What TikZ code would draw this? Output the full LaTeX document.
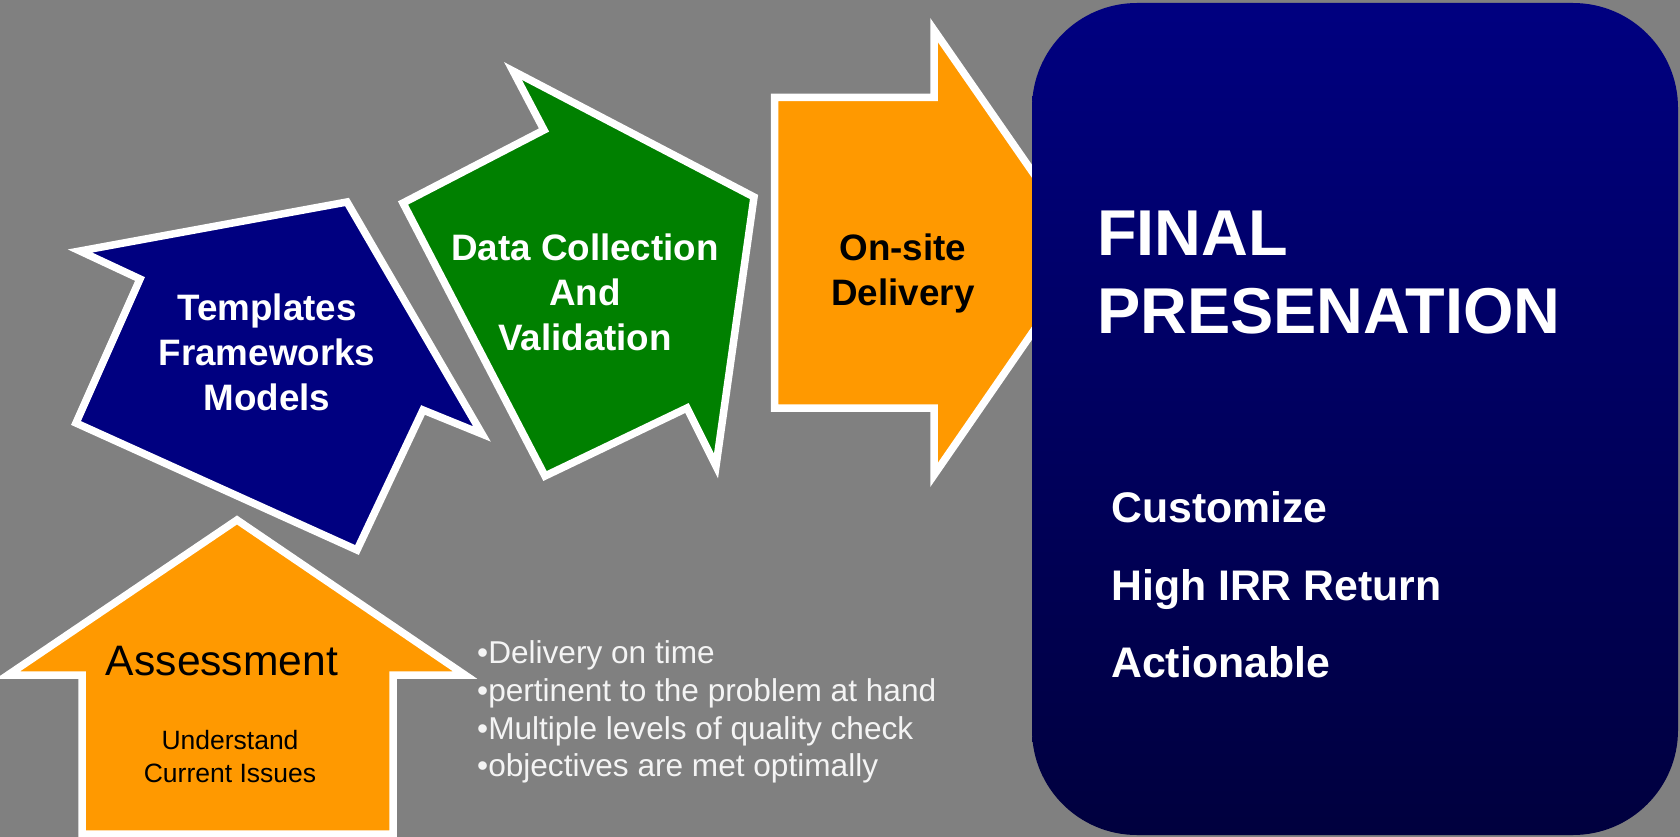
\documentclass[tikz,border=0pt]{standalone}
\usepackage{fontspec}
\setmainfont{Liberation Sans}
\definecolor{bggray}{HTML}{808080}
\definecolor{navy}{HTML}{000080}
\definecolor{navydark}{HTML}{00003E}
\definecolor{dgreen}{HTML}{008000}
\definecolor{amber}{HTML}{FF9900}
\definecolor{lightgray}{HTML}{F4F4F4}
\tikzset{
  arrowshape/.style={draw=white, line width=7.5pt, line join=miter},
  bigtxt/.style={inner sep=0pt, align=center, font=\bfseries\fontsize{36.8}{45}\selectfont},
}
\begin{document}
\begin{tikzpicture}[x=1pt,y=-1pt]
\useasboundingbox (0,0) rectangle (1680,837);
\fill[bggray] (0,0) rectangle (1680,837);

% blue arrow
\draw[arrowshape, fill=navy] (80,251) -- (347,202) -- (482,434) -- (423,410) -- (357,550) -- (76,423) -- (140,279) -- cycle;
% green arrow
\draw[arrowshape, fill=dgreen] (513,71) -- (754,197) -- (716,466) -- (687,408) -- (545,476) -- (403,203) -- (544,130) -- cycle;
% orange right arrow
\draw[arrowshape, fill=amber] (774.5,97.5) -- (934,97.5) -- (934,30) -- (1088,252) -- (934,475) -- (934,408) -- (774.5,408) -- cycle;
% assessment arrow
\draw[arrowshape, fill=amber] (237,520) -- (465,675) -- (393,675) -- (393,834) -- (82,834) -- (82,675) -- (8,675) -- cycle;

% final box
\shade[top color=navy, bottom color=navydark, rounded corners=105pt] (1032,3) rectangle (1678,835);

% texts
\node[bigtxt, text=white] (tfm) at (267,352) {Templates\\Frameworks\\Models};
\node[bigtxt, text=white] (dcv) at (585,292) {Data Collection\\And\\Validation};
\node[bigtxt, text=black] (osd) at (903,273) {On-site\\Delivery};
\node[inner sep=0pt, anchor=base, font=\fontsize{42.6}{50}\selectfont] (ass) at (222,675) {Assessment};
\node[inner sep=0pt, align=center, font=\fontsize{26.5}{33}\selectfont] (und) at (230,756.5) {Understand\\Current Issues};
\node[inner sep=0pt, align=left, anchor=west, text=lightgray, font=\fontsize{31.6}{37.7}\selectfont] (bul) at (477,712) {•Delivery on time\\•pertinent to the problem at hand\\•Multiple levels of quality check\\•objectives are met optimally};
\node[inner sep=0pt, align=left, anchor=west, text=white, font=\bfseries\fontsize{64.8}{78}\selectfont] (fin) at (1097,273) {FINAL\\PRESENATION};
\node[inner sep=0pt, align=left, anchor=west, text=white, font=\bfseries\fontsize{42.8}{77.5}\selectfont] (cus) at (1111,585) {Customize\\High IRR Return\\Actionable};
\end{tikzpicture}
\end{document}
